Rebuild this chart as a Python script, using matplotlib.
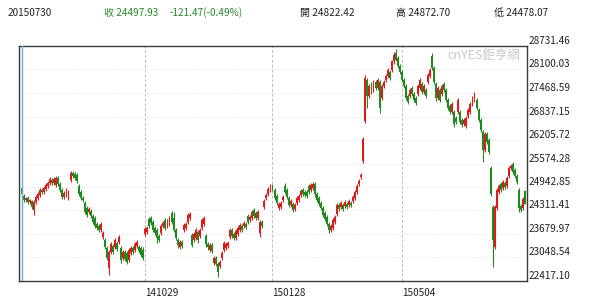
import matplotlib
matplotlib.use("Agg")
import matplotlib.pyplot as plt
import matplotlib.transforms as mtransforms

plt.rcParams["font.family"] = ["Noto Sans CJK TC", "DejaVu Sans"]

# daily OHLC, one value per trading day
opens = [
    24920, 24705, 24597, 24651, 24543, 24570, 24327, 24543, 24651, 24732,
    24866, 24812, 24893, 24974, 25055, 25136, 25055, 25001, 25190, 25028,
    24866, 24678, 24732, 24651, 25136, 25324, 25297, 25270, 24974, 24812,
    24651, 24516, 24381, 24274, 24301, 24166, 24112, 23950, 23896, 23789,
    23600, 23519, 23304, 22765, 23196, 23358, 23331, 23439, 23465, 23304,
    23034, 23196, 23169, 22981, 23169, 23304, 23250, 23358, 23331, 23304,
    23250, 23681, 23735, 24085, 24112, 24004, 23843, 23789, 23627, 23708,
    23896, 24058, 23896, 23950, 24247, 24112, 23789, 23519, 23331, 23465,
    23789, 23843, 24004, 24112, 23654, 23519, 23573, 23735, 23627, 23843,
    23950, 23627, 23412, 23250, 23385, 22900, 23034, 22873, 22819, 23034,
    23250, 23304, 23358, 23600, 23789, 23681, 23573, 23681, 23789, 23896,
    23896, 23950, 24166, 24058, 24112, 24327, 24247, 24112, 23708, 24004,
    24408, 24651, 24758, 24866, 24974, 24866, 24705, 24381, 24408, 24597,
    24974, 24866, 24651, 24462, 24489, 24354, 24516, 24597, 24732, 24866,
    24812, 24812, 24974, 24866, 24920, 25028, 24758, 24651, 24516, 24381,
    24247, 24139, 23950, 23789, 23843, 24004, 24220, 24462, 24408, 24462,
    24435, 24489, 24462, 24516, 24570, 24651, 24812, 25028, 25216, 25647,
    26725, 27830, 27399, 27722, 27560, 27776, 27614, 27776, 27345, 27668,
    27830, 27937, 28045, 28099, 28315, 28530, 28422, 28207, 28045, 27830,
    27668, 27399, 27399, 27614, 27452, 27345, 27452, 27614, 27722, 27506,
    27560, 27776, 27937, 28476, 28153, 27722, 27345, 27560, 27452, 27722,
    27560, 27291, 27129, 26968, 26968, 26806, 26968, 26968, 26752, 26644,
    26590, 26860, 26968, 27183, 27291, 27291, 27021, 26752, 26429, 25944,
    26375, 26213, 25459, 24408, 23331, 24381, 24812, 25028, 24920, 25055,
    24974, 25243, 25459, 25567, 25405, 25243, 24866, 24435, 24381, 24822.42,
]
highs = [
    24974, 24758, 24678, 24705, 24624, 24597, 24597, 24732, 24812, 24920,
    24920, 24974, 25055, 25109, 25216, 25190, 25216, 25243, 25243, 25082,
    24920, 24839, 24920, 24866, 25378, 25378, 25351, 25324, 25028, 24866,
    24705, 24570, 24435, 24408, 24354, 24220, 24166, 24004, 23950, 24004,
    23762, 23573, 23358, 23250, 23465, 23412, 23573, 23492, 23654, 23358,
    23250, 23250, 23223, 23304, 23358, 23358, 23465, 23519, 23385, 23358,
    23331, 23870, 23896, 24139, 24166, 24058, 23896, 23843, 23681, 23950,
    24031, 24112, 24085, 24166, 24301, 24274, 23843, 23573, 23519, 23519,
    23977, 24004, 24247, 24274, 23708, 23735, 23843, 23789, 23843, 24112,
    24166, 23681, 23465, 23439, 23439, 23088, 23088, 22927, 22981, 23223,
    23492, 23465, 23492, 23843, 23843, 23735, 23816, 23896, 23977, 23950,
    24031, 24004, 24220, 24193, 24327, 24381, 24301, 24327, 24058, 24058,
    24624, 24785, 24947, 25028, 25028, 24920, 24758, 24543, 24570, 24732,
    25055, 24920, 24705, 24624, 24543, 24516, 24705, 24758, 24893, 24920,
    24866, 24866, 25028, 25055, 25082, 25082, 24812, 24705, 24570, 24435,
    24301, 24193, 24004, 23950, 24112, 24193, 24516, 24516, 24570, 24516,
    24597, 24543, 24624, 24570, 24732, 24866, 25028, 25163, 25324, 26294,
    27964, 27883, 27722, 27776, 27830, 27830, 27883, 27830, 27722, 27830,
    27991, 28153, 28099, 28368, 28557, 28638, 28476, 28261, 28099, 27883,
    27722, 27452, 27614, 27668, 27506, 27399, 27722, 27883, 27776, 27722,
    27614, 28018, 28153, 28530, 28207, 27776, 27668, 27614, 27722, 27776,
    27614, 27345, 27183, 27237, 27021, 26860, 27345, 27021, 26806, 26806,
    26860, 27075, 27237, 27399, 27506, 27345, 27075, 26806, 26483, 26429,
    26429, 26267, 25513, 24462, 24462, 24920, 25028, 25082, 25136, 25109,
    25243, 25513, 25567, 25621, 25459, 25297, 24920, 24489, 24678, 24872.70,
]
lows = [
    24678, 24543, 24543, 24489, 24489, 24354, 24193, 24489, 24597, 24678,
    24758, 24758, 24839, 24920, 25001, 25001, 25001, 24947, 24974, 24812,
    24624, 24624, 24678, 24597, 25082, 25190, 25136, 25055, 24705, 24597,
    24543, 24220, 24139, 24220, 24112, 23950, 23843, 23789, 23735, 23735,
    23546, 23277, 22981, 22577, 23142, 23142, 23277, 23223, 23412, 22900,
    22981, 22954, 22873, 22927, 23115, 23142, 23196, 23304, 23169, 23061,
    22981, 23627, 23681, 23843, 23923, 23735, 23654, 23439, 23465, 23654,
    23843, 23789, 23843, 23896, 23950, 23735, 23519, 23304, 23277, 23304,
    23735, 23789, 23950, 24058, 23331, 23465, 23519, 23439, 23573, 23789,
    23896, 23331, 23250, 23196, 23169, 22846, 22819, 22523, 22765, 22981,
    23196, 23250, 23304, 23546, 23573, 23519, 23519, 23627, 23735, 23735,
    23843, 23816, 23950, 24004, 24058, 24112, 24058, 24058, 23600, 23843,
    24354, 24597, 24705, 24812, 24839, 24597, 24462, 24327, 24354, 24543,
    24758, 24624, 24408, 24408, 24274, 24301, 24462, 24543, 24678, 24705,
    24678, 24651, 24758, 24812, 24866, 24678, 24543, 24435, 24327, 24139,
    24031, 23896, 23708, 23735, 23789, 23950, 24166, 24301, 24354, 24301,
    24381, 24354, 24408, 24408, 24516, 24597, 24758, 24974, 25163, 25594,
    26671, 27075, 27345, 27452, 27506, 27560, 27560, 26941, 27291, 27614,
    27776, 27883, 27830, 28045, 28261, 28315, 28153, 27991, 27776, 27614,
    27291, 27183, 27345, 27399, 27237, 27156, 27399, 27560, 27452, 27452,
    27345, 27722, 27883, 28099, 27722, 27264, 27291, 27237, 27399, 27506,
    27237, 27021, 26914, 26914, 26563, 26644, 26914, 26644, 26563, 26590,
    26536, 26806, 26914, 27129, 27237, 27021, 26698, 26429, 25621, 25890,
    26105, 25836, 24705, 22792, 23277, 24327, 24758, 24812, 24866, 24893,
    24920, 25190, 25405, 25297, 25190, 25028, 24274, 24274, 24327, 24478.07,
]
closes = [
    24758, 24597, 24651, 24543, 24597, 24408, 24543, 24678, 24758, 24866,
    24812, 24920, 25001, 25055, 25163, 25055, 25163, 25190, 25028, 24866,
    24678, 24785, 24866, 24812, 25324, 25243, 25190, 25109, 24758, 24651,
    24597, 24274, 24193, 24354, 24166, 24004, 23896, 23843, 23789, 23950,
    23708, 23331, 23034, 23196, 23412, 23196, 23519, 23277, 23600, 22981,
    23196, 23008, 22927, 23250, 23304, 23196, 23412, 23465, 23223, 23115,
    23034, 23816, 23843, 23896, 23977, 23789, 23708, 23573, 23519, 23896,
    23977, 23843, 24031, 24112, 24004, 23789, 23573, 23385, 23465, 23358,
    23923, 23950, 24193, 24220, 23385, 23681, 23789, 23519, 23789, 24058,
    24112, 23412, 23331, 23385, 23223, 23034, 22873, 22657, 22927, 23169,
    23439, 23412, 23439, 23789, 23627, 23573, 23762, 23843, 23923, 23789,
    23977, 23870, 24004, 24139, 24274, 24166, 24112, 24274, 24004, 23896,
    24570, 24732, 24893, 24974, 24893, 24651, 24516, 24489, 24516, 24678,
    24812, 24678, 24462, 24570, 24327, 24462, 24651, 24705, 24839, 24758,
    24732, 24705, 24812, 25001, 25028, 24758, 24597, 24489, 24381, 24193,
    24085, 23950, 23789, 23896, 24058, 24139, 24462, 24354, 24516, 24354,
    24543, 24408, 24570, 24462, 24678, 24812, 24974, 25109, 25270, 26240,
    27883, 27399, 27668, 27506, 27776, 27614, 27830, 27075, 27668, 27776,
    27937, 28099, 27883, 28315, 28503, 28368, 28207, 28045, 27830, 27668,
    27345, 27237, 27560, 27452, 27291, 27210, 27668, 27830, 27506, 27668,
    27399, 27964, 28099, 28153, 27776, 27345, 27614, 27291, 27668, 27560,
    27291, 27075, 26968, 27183, 26644, 26698, 27291, 26698, 26617, 26752,
    26806, 27021, 27183, 27345, 27452, 27075, 26752, 26483, 25944, 26375,
    26159, 25890, 24758, 23519, 24408, 24866, 24974, 24866, 25082, 24947,
    25190, 25459, 25513, 25351, 25243, 25082, 24381, 24327, 24624, 24497.93,
]

ytick_vals = [22417.10, 23048.54, 23679.97, 24311.41, 24942.85, 25574.28,
              26205.72, 26837.15, 27468.59, 28100.03, 28731.46]
ytick_labels = ["22417.10", "23048.54", "23679.97", "24311.41", "24942.85", "25574.28",
                "26205.72", "26837.15", "27468.59", "28100.03", "28731.46"]
xtick_pos = [61, 124, 188]
xtick_labels = ["141029", "150128", "150504"]

header_date = "20150730"
header_close = "收 24497.93"
header_change = "-121.47(-0.49%)"
header_open = "開 24822.42"
header_high = "高 24872.70"
header_low = "低 24478.07"

RED = "#dc1c1c"
GREEN = "#1f8a1f"
W, H = 600, 304

fig = plt.figure(figsize=(W / 100, H / 100), dpi=100)
ax = fig.add_axes([19 / W, 23 / H, 508 / W, 235 / H])

# grid
for v in ytick_vals[1:-1]:
    ax.axhline(v, color="#dcdcdc", lw=0.6, ls=(0, (1, 2)), zorder=0)
for p in xtick_pos:
    ax.axvline(p, color="#bdbdbd", lw=0.7, ls=(0, (3, 2)), zorder=0)

# candles
for i in range(len(closes)):
    o, h, l, c = opens[i], highs[i], lows[i], closes[i]
    col = RED if c >= o else GREEN
    ax.vlines(i, l, h, color=col, lw=0.8, zorder=2)
    ax.bar(i, abs(c - o) if c != o else 12, bottom=min(o, c), width=0.95,
           color=col, linewidth=0, zorder=3)

ax.set_xlim(-1.5, 250)
ax.set_ylim(ytick_vals[0], ytick_vals[-1])
ax.set_xticks([])
ax.set_yticks([])
for s in ax.spines.values():
    s.set_color("#3a3a3a")
    s.set_linewidth(1.0)

# light blue marker next to the left edge
ax.plot([0.006, 0.006], [0, 1], transform=ax.transAxes, color="#6aaee0", lw=1.0, zorder=4)

# y labels on the right, a bit above each level
ytrans = mtransforms.offset_copy(
    mtransforms.blended_transform_factory(ax.transAxes, ax.transData),
    fig=fig, x=1.5, y=5, units="dots")
for v, lab in zip(ytick_vals, ytick_labels):
    ax.text(1.0, v, lab, transform=ytrans, ha="left", va="center",
            fontsize=7.2, color="#222222")

xtrans = mtransforms.offset_copy(
    mtransforms.blended_transform_factory(ax.transData, ax.transAxes),
    fig=fig, x=0, y=-12, units="dots")
for p, lab in zip(xtick_pos, xtick_labels):
    ax.text(p, 0, lab, transform=xtrans, ha="left", va="center",
            fontsize=7.2, color="#222222")

# watermark
ax.text(520 / W, 1 - 55 / H, "cnYES鉅亨網", transform=fig.transFigure,
        ha="right", va="center", fontsize=9, color="#c8c8c8")

# header
hy = 1 - 13 / H
fig.text(8 / W, hy, header_date, fontsize=7.2, color="#222222", va="center")
fig.text(104 / W, hy, header_close, fontsize=7.2, color="#2a8a2a", va="center")
fig.text(170 / W, hy, header_change, fontsize=7.2, color="#2a8a2a", va="center")
fig.text(300 / W, hy, header_open, fontsize=7.2, color="#222222", va="center")
fig.text(396 / W, hy, header_high, fontsize=7.2, color="#222222", va="center")
fig.text(494 / W, hy, header_low, fontsize=7.2, color="#222222", va="center")

fig.savefig("out.png", dpi=100)
